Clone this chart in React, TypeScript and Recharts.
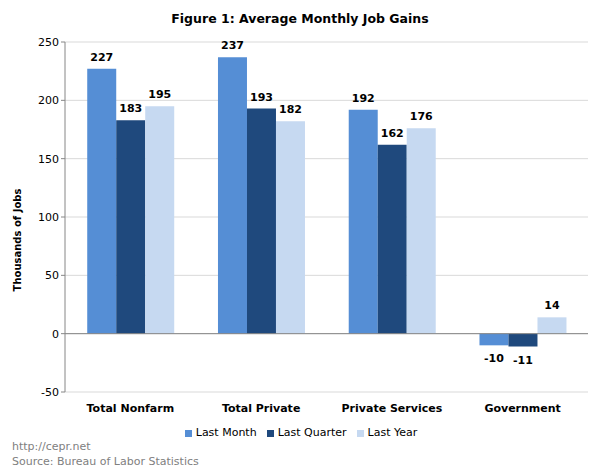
import { BarChart, Bar, XAxis, YAxis, CartesianGrid, Legend, ReferenceLine, LabelList, Label } from 'recharts'

const categories = ['Total Nonfarm', 'Total Private', 'Private Services', 'Government']
const lastMonth = [227, 237, 192, -10]
const lastQuarter = [183, 193, 162, -11]
const lastYear = [195, 182, 176, 14]
const yTicks = [-50, 0, 50, 100, 150, 200, 250]

const data = categories.map((name, i) => ({
  name,
  month: lastMonth[i],
  quarter: lastQuarter[i],
  year: lastYear[i],
}))

const FONT = '"DejaVu Sans", Verdana, sans-serif'

// value label above positive bars, below negative ones
const ValueLabel = (props: any) => {
  const { x, y, width, height, value } = props
  const top = Math.min(y, y + height)
  const bottom = Math.max(y, y + height)
  const ty = value >= 0 ? top - 8 : bottom + 17
  return (
    <text x={x + width / 2} y={ty} textAnchor="middle" fontFamily={FONT} fontSize={11} fontWeight="bold" fill="#000">
      {value}
    </text>
  )
}

const YTitle = (props: any) => {
  const { viewBox } = props
  const cy = viewBox.y + viewBox.height / 2 + 23
  return (
    <text x={21} y={cy} transform={`rotate(-90, 21, ${cy})`} textAnchor="middle" fontFamily={FONT} fontSize={10} fontWeight="bold" fill="#000">
      Thousands of Jobs
    </text>
  )
}

const App = () => {
  return (
    <div style={{ position: 'absolute', left: 0, top: 0, width: 594, height: 475, background: '#fff', fontFamily: FONT }}>
      <div style={{ position: 'absolute', left: 0, top: 11, width: 600, textAlign: 'center', fontSize: 12.5, fontWeight: 'bold', color: '#000' }}>
        Figure 1: Average Monthly Job Gains
      </div>
      <BarChart
        width={594}
        height={475}
        data={data}
        margin={{ top: 42, right: 6, left: 0, bottom: 36 }}
        barCategoryGap="17%"
        barGap={0}
      >
        <CartesianGrid vertical={false} stroke="#d9d9d9" />
        <XAxis
          dataKey="name"
          height={34}
          axisLine={false}
          tickLine={false}
          tickMargin={6}
          tick={{ fontFamily: FONT, fontSize: 11, fontWeight: 'bold', fill: '#000' }}
          interval={0}
        />
        <YAxis
          width={65}
          domain={[-50, 250]}
          ticks={yTicks}
          interval={0}
          axisLine={{ stroke: '#868686' }}
          tickLine={{ stroke: '#868686' }}
          tickSize={4}
          tick={{ fontFamily: FONT, fontSize: 11, fill: '#000' }}
        >
          <Label content={<YTitle />} />
        </YAxis>
        <ReferenceLine y={0} stroke="#868686" />
        <Legend
          verticalAlign="bottom"
          iconType="square"
          iconSize={7}
          wrapperStyle={{ fontFamily: FONT, fontSize: 11, left: 12 }}
          formatter={(v: string) => <span style={{ color: '#000' }}>{v}</span>}
        />
        <Bar dataKey="month" name="Last Month" fill="#558ed5" isAnimationActive={false}>
          <LabelList dataKey="month" content={<ValueLabel />} />
        </Bar>
        <Bar dataKey="quarter" name="Last Quarter" fill="#1f497d" isAnimationActive={false}>
          <LabelList dataKey="quarter" content={<ValueLabel />} />
        </Bar>
        <Bar dataKey="year" name="Last Year" fill="#c6d9f1" isAnimationActive={false}>
          <LabelList dataKey="year" content={<ValueLabel />} />
        </Bar>
      </BarChart>
      <div style={{ position: 'absolute', left: 12, top: 439, fontSize: 11, color: '#808080', lineHeight: '15px' }}>
        http://cepr.net
        <br />
        Source: Bureau of Labor Statistics
      </div>
    </div>
  )
}

export default App
